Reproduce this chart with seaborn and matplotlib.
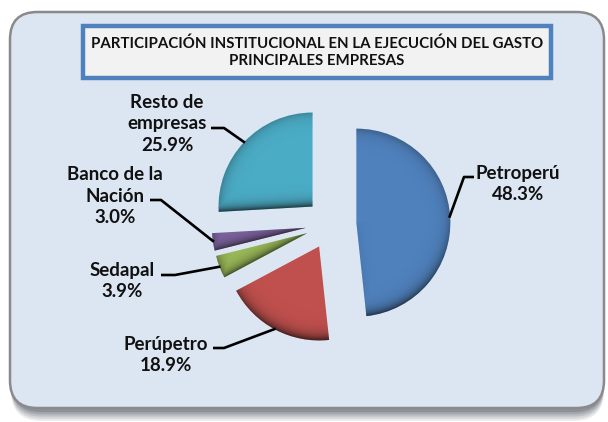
import numpy as np
import seaborn as sns
import matplotlib.pyplot as plt
from matplotlib.patches import FancyBboxPatch, Rectangle

# data
empresas = ["Petroperú", "Perúpetro", "Sedapal", "Banco de la\nNación", "Resto de\nempresas"]
participacion = [48.3, 18.9, 3.9, 3.0, 25.9]
colores = ["#4f81bd", "#c0504d", "#9bbb59", "#8064a2", "#4bacc6"]
titulo = "PARTICIPACIÓN INSTITUCIONAL EN LA EJECUCIÓN DEL GASTO\nPRINCIPALES EMPRESAS"

sns.set_theme(style="white")
plt.rcParams["font.family"] = ["Lato", "DejaVu Sans"]

W, H = 608, 422
fig = plt.figure(figsize=(W / 100, H / 100), dpi=100)
fig.patch.set_facecolor("white")


# pixel coords -> figure fraction
def fx(px):
    return px / W


def fy(py):
    return 1 - py / H


# rounded background box with soft bottom shadow
for k, a in enumerate([0.10, 0.12, 0.15, 0.18, 0.22]):
    sh = FancyBboxPatch((fx(11), fy(410 + 2.2 * (5 - k))), fx(593), fy(16) - fy(410),
                        boxstyle="round,pad=0,rounding_size=0.05",
                        transform=fig.transFigure, facecolor="#3a4250", edgecolor="none",
                        alpha=a, mutation_aspect=W / H, zorder=-3)
    fig.patches.append(sh)
bg = FancyBboxPatch((fx(10), fy(408)), fx(594), fy(12) - fy(408),
                    boxstyle="round,pad=0,rounding_size=0.045",
                    transform=fig.transFigure, facecolor="#dce6f2", edgecolor="#8a8a8a",
                    linewidth=1.8, mutation_aspect=W / H, zorder=-2)
fig.patches.append(bg)

# pie axes: 1 data unit = R px, pie centre at (cx, cy) px
R = 94.0
cx, cy = 331.0, 224.0
ax = fig.add_axes([0, 0, 1, 1])
ax.set_zorder(2)
ax.patch.set_visible(False)

explode = [0.27] * len(participacion)
wedges, _ = ax.pie(participacion, colors=colores, startangle=90, counterclock=False,
                   explode=explode, radius=1.0, frame=True,
                   wedgeprops=dict(linewidth=0, antialiased=True))

# bevel shading on each wedge (darker on downward facing rims)
for w in wedges:
    c = np.array(w.center)
    t1, t2 = np.deg2rad(w.theta1), np.deg2rad(w.theta2)
    xs = np.linspace(c[0] - 1.02, c[0] + 1.02, 300)
    ys = np.linspace(c[1] - 1.02, c[1] + 1.02, 300)
    X, Y = np.meshgrid(xs, ys)
    dx, dy = X - c[0], Y - c[1]
    rho = np.hypot(dx, dy)
    phi = np.arctan2(dy, dx)
    d_arc = 1.0 - rho
    shade = np.exp(-np.clip(d_arc, 0, None) / 0.06) * (0.25 + 0.45 * np.clip(-np.sin(phi), 0, 1))
    for t, sgn in ((t1, 1), (t2, -1)):
        ux, uy = np.cos(t), np.sin(t)
        nx, ny = sgn * uy, -sgn * ux  # outward normal
        d = -(dx * nx + dy * ny)
        along = dx * ux + dy * uy
        s = np.exp(-np.clip(d, 0, None) / 0.05) * np.clip(-ny, 0, 1) * 0.7
        s[along < 0] = 0
        shade = np.maximum(shade, s)
    rgba = np.zeros(X.shape + (4,))
    rgba[..., 0:3] = 0.05
    rgba[..., 3] = np.clip(shade, 0, 0.65)
    im = ax.imshow(rgba, extent=(xs[0], xs[-1], ys[0], ys[-1]), origin="lower",
                   interpolation="bilinear", zorder=w.get_zorder() + 0.1)
    im.set_clip_path(w)

ax.set_xlim(-cx / R, (W - cx) / R)
ax.set_ylim(-(H - cy) / R, cy / R)
ax.set_aspect("auto")
ax.axis("off")

# labels with leader lines (text centre, elbow and end of line in px)
label_pos = [(518, 184), (166, 355), (122, 281), (115, 196), (167, 124)]
elbows = [(464, 177), (224, 348), (175, 275), (161, 200), (224, 128)]
ends = [(474, 177), (213, 348), (161, 275), (150, 200), (211, 128)]


def to_data(p):
    return ((p[0] - cx) / R, (cy - p[1]) / R)


for w, name, val, lp, el, en in zip(wedges, empresas, participacion, label_pos, elbows, ends):
    c = np.array(w.center)
    mid = np.deg2rad((w.theta1 + w.theta2) / 2)
    rim = c + 0.99 * np.array([np.cos(mid), np.sin(mid)])
    pts = np.array([rim, to_data(el), to_data(en)])
    ax.plot(pts[:, 0], pts[:, 1], color="black", linewidth=1.9, solid_capstyle="butt", zorder=5)
    tx, ty = to_data(lp)
    ax.text(tx, ty, f"{name}\n{val:.1f}%", ha="center", va="center", fontsize=13.5,
            fontweight="bold", color="#111111", linespacing=1.3, zorder=6)

# title box
tb = Rectangle((fx(83), fy(78)), fx(551) - fx(83), fy(26) - fy(78), transform=fig.transFigure,
               facecolor="#f2f2f2", edgecolor="#4f81bd", linewidth=3.2, zorder=3)
fig.patches.append(tb)
fig.text(fx(317), fy(52), titulo, ha="center", va="center", fontsize=10.8,
         fontweight="bold", color="#111111", linespacing=1.3, zorder=4)

fig.savefig("out.png", dpi=100, facecolor="white")
